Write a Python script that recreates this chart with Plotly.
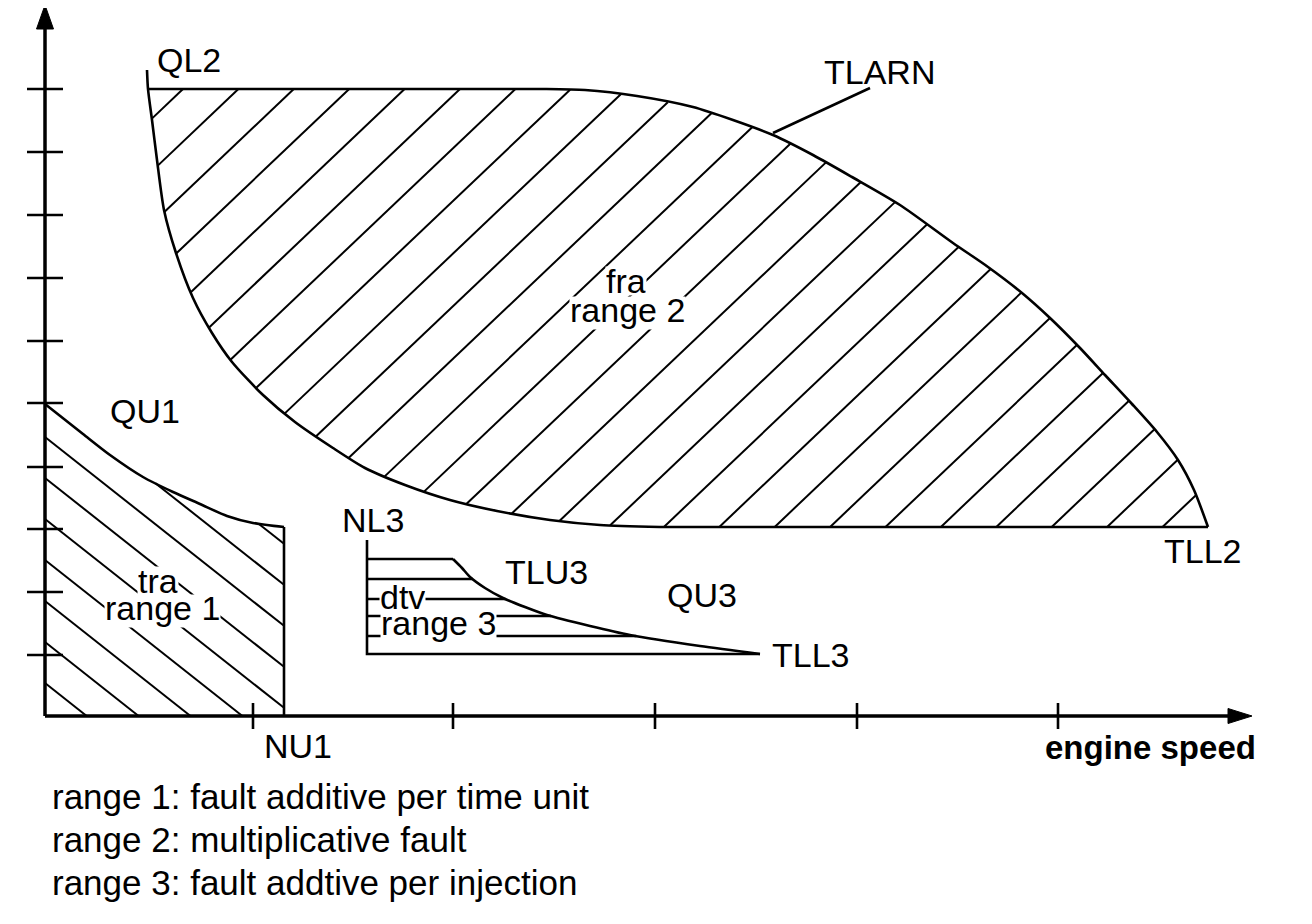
import numpy as np
import plotly.graph_objects as go

# ------------------------------------------------------------------
# Data (schematic units: x = engine speed, y = quantity, origin at axis corner)
# ------------------------------------------------------------------
X_TICKS = [208, 408, 610, 812, 1013]
Y_TICKS = [61, 124, 187, 249, 313, 375, 438, 501, 564, 627]

# range 1 (tra): upper limit curve QU1, right limit NU1
QU1_X = [0, 38, 65, 98, 128, 155, 182, 208, 239]
QU1_Y = [312, 282, 261, 239, 224, 212, 200, 193, 189]
NU1 = 239

# range 2 (fra): lower-left limit curve QL2, bottom limit TLL2, upper curve TLARN
QL2_X = [102, 103, 107, 112, 119, 131, 148, 167, 187, 218, 250, 288, 320, 360, 405, 452, 505, 555, 615]
QL2_Y = [646, 627, 596, 556, 506, 463, 418, 383, 354, 321, 294, 268, 248, 231, 216, 205, 196, 191, 189]
TLL2_X = [615, 1163]
TLL2_Y = [189, 189]
TLARN_X = [103, 495, 540, 592, 648, 688, 728, 768, 807, 855, 908, 943, 977, 1005, 1035, 1060, 1087, 1112, 1133, 1149, 1163]
TLARN_Y = [627, 627, 626, 620, 609, 596, 581, 561, 539, 511, 473, 449, 423, 398, 368, 341, 312, 284, 256, 226, 189]
TLARN_LEADER_X = [728, 825]
TLARN_LEADER_Y = [583, 628]

# range 3 (dtv): NL3 left limit, TLL3 bottom, TLU3 upper curve
NL3 = 322
NL3_TOP = 176
TLL3_Y = 62
TLU3_X = [408, 417, 425, 440, 458, 480, 502, 545, 585, 655, 715]
TLU3_Y = [157, 148, 139, 128, 118, 109, 101, 90, 81, 70, 62]
RANGE3_LEVELS = [137, 117, 100, 80]

# plain labels: text, x, y, anchor
LABELS = [
    ("QL2", 110, 656, "left"),
    ("TLARN", 777, 644, "left"),
    ("QU1", 63, 305, "left"),
    ("NU1", 253, -30, "center"),
    ("NL3", 295, 196, "left"),
    ("TLU3", 458, 144, "left"),
    ("QU3", 620, 121, "left"),
    ("TLL3", 725, 61, "left"),
    ("TLL2", 1117, 165, "left"),
]
# two-line range names drawn over hatching: (lower text, x, y), (upper text, x, y)
RANGE_NAMES = [
    (("range 1", 117, 105), ("tra", 113, 135)),
    (("range 2", 582, 403), ("fra", 581, 435)),
    (("range 3", 393, 90), ("dtv", 357, 119)),
]
AXIS_LABEL = ("engine speed", 998, -31)
LEGEND_LINES = [
    "range 1: fault additive per time unit",
    "range 2: multiplicative fault",
    "range 3: fault addtive per injection",
]
LEGEND_Y = [-80, -123, -166]

# ------------------------------------------------------------------
# Styling / layout constants
# ------------------------------------------------------------------
PAGE_OFF = 8                      # default body margin of the html page
W, H = 1312 - 2 * PAGE_OFF, 924 - 2 * PAGE_OFF
X0_PX, Y0_PX = 45 - PAGE_OFF, 716 - PAGE_OFF
FONT = "Liberation Sans, Arial, Helvetica, sans-serif"
FS = 34
FS_LEG = 35
FS_AXIS = 33
BLACK = "#000000"
AXIS_W = 3.5
EDGE_W = 2.6
HATCH_W = 2.0

Y_AXIS_TOP = 711
X_AXIS_END = 1207
ARROW_LEN = 24
ARROW_HALF = 8.5
Y_TICK_HALF = 18
X_TICK_HALF = 13

R1_SLOPE, R1_INTERCEPTS = -0.79, [361, 320, 279, 238, 197, 156, 115, 74, 33]
R2_SLOPE, R2_START, R2_STEP, R2_COUNT = 0.95, -323, 55.4, 28


def hatch(slope, intercepts, x_lo, x_hi, lower_fn, upper_fn, step=0.1):
    xs = np.arange(x_lo, x_hi + step / 2, step)
    lo, hi = lower_fn(xs), upper_fn(xs)
    hx, hy = [], []
    for b in intercepts:
        ys = b + slope * xs
        idx = np.flatnonzero((ys >= lo) & (ys <= hi))
        if idx.size == 0:
            continue
        br = np.flatnonzero(np.diff(idx) > 1)
        starts = np.r_[idx[0], idx[br + 1]]
        ends = np.r_[idx[br], idx[-1]]
        for s, e in zip(starts, ends):
            if xs[e] - xs[s] < 3:
                continue
            hx += [float(xs[s]), float(xs[e]), None]
            hy += [float(ys[s]), float(ys[e]), None]
    return hx, hy


def line(fig, x, y, width, shape="linear"):
    fig.add_trace(go.Scatter(x=x, y=y, mode="lines",
                             line=dict(color=BLACK, width=width, shape=shape, smoothing=0.7),
                             hoverinfo="skip", showlegend=False))


fig = go.Figure()

# ---- hatching range 1 ----
qx, qy = np.array(QU1_X, float), np.array(QU1_Y, float)
h1x, h1y = hatch(R1_SLOPE, R1_INTERCEPTS, 0, NU1,
                 lambda x: np.zeros_like(x), lambda x: np.interp(x, qx, qy))
line(fig, h1x, h1y, HATCH_W)

# ---- hatching range 2 ----
low_x = np.array(QL2_X[1:] + TLL2_X[1:], float)
low_y = np.array(QL2_Y[1:] + TLL2_Y[1:], float)
up_x, up_y = np.array(TLARN_X, float), np.array(TLARN_Y, float)
r2_int = [TLL2_Y[0] - R2_SLOPE * (R2_START + k * R2_STEP) for k in range(-1, R2_COUNT)]
h2x, h2y = hatch(R2_SLOPE, r2_int, low_x[0], low_x[-1],
                 lambda x: np.interp(x, low_x, low_y), lambda x: np.interp(x, up_x, up_y))
line(fig, h2x, h2y, HATCH_W)

# ---- range 3 level lines ----
cx_rev, cy_rev = np.array(TLU3_X[::-1], float), np.array(TLU3_Y[::-1], float)
lx, ly = [], []
for lev in RANGE3_LEVELS:
    lx += [NL3, float(np.interp(lev, cy_rev, cx_rev)), None]
    ly += [lev, lev, None]
line(fig, lx, ly, EDGE_W)

# ---- outlines ----
line(fig, QU1_X, QU1_Y, EDGE_W, "spline")
line(fig, [NU1, NU1], [QU1_Y[-1], 0], EDGE_W)
line(fig, QL2_X, QL2_Y, EDGE_W, "spline")
line(fig, TLL2_X, TLL2_Y, EDGE_W)
line(fig, TLARN_X, TLARN_Y, EDGE_W, "spline")
line(fig, TLARN_LEADER_X, TLARN_LEADER_Y, EDGE_W)
line(fig, [TLU3_X[0], NL3, None, NL3, NL3, TLU3_X[-1]],
     [TLU3_Y[0], TLU3_Y[0], None, NL3_TOP, TLL3_Y, TLL3_Y], EDGE_W)
line(fig, TLU3_X, TLU3_Y, EDGE_W, "spline")

# ---- axes ----
line(fig, [0, 0, None, 0, X_AXIS_END - ARROW_LEN + 2], [Y_AXIS_TOP - ARROW_LEN + 2, 0, None, 0, 0], AXIS_W)
tx, ty = [], []
for t in Y_TICKS:
    tx += [-Y_TICK_HALF, Y_TICK_HALF, None]
    ty += [t, t, None]
for t in X_TICKS:
    tx += [t, t, None]
    ty += [-X_TICK_HALF, X_TICK_HALF, None]
line(fig, tx, ty, 2.6)
fig.add_trace(go.Scatter(
    x=[0, -ARROW_HALF, ARROW_HALF, 0, None, X_AXIS_END, X_AXIS_END - ARROW_LEN, X_AXIS_END - ARROW_LEN, X_AXIS_END],
    y=[Y_AXIS_TOP, Y_AXIS_TOP - ARROW_LEN, Y_AXIS_TOP - ARROW_LEN, Y_AXIS_TOP, None, 0, ARROW_HALF - 1, -ARROW_HALF + 1, 0],
    mode="lines", fill="toself", fillcolor=BLACK, line=dict(color=BLACK, width=1),
    hoverinfo="skip", showlegend=False))

# ---- text ----
font = dict(family=FONT, size=FS, color=BLACK)
ann = []
for text, x, y, anchor in LABELS:
    ann.append(dict(x=x, y=y, text=text, showarrow=False, xanchor=anchor, yanchor="middle", font=font))
for (low_t, low_x_, low_y_), (up_t, up_x_, up_y_) in RANGE_NAMES:
    # white boxes hide the hatching behind the text, sized so they do not hide each other
    ann.append(dict(x=low_x_, y=low_y_, text=low_t, showarrow=False, xanchor="center", yanchor="middle",
                    bgcolor="white", borderpad=0, height=32, valign="bottom", font=font))
    ann.append(dict(x=up_x_, y=up_y_, text=up_t, showarrow=False, xanchor="center", yanchor="middle",
                    bgcolor="white", borderpad=0, height=28, valign="middle", font=font))
ann.append(dict(x=AXIS_LABEL[1], y=AXIS_LABEL[2], text="<b>%s</b>" % AXIS_LABEL[0], showarrow=False,
                xanchor="left", yanchor="middle", font=dict(family=FONT, size=FS_AXIS, color=BLACK)))
for txt, y in zip(LEGEND_LINES, LEGEND_Y):
    ann.append(dict(x=5, y=y, text=txt, showarrow=False, xanchor="left", yanchor="middle",
                    font=dict(family=FONT, size=FS_LEG, color=BLACK)))

fig.update_layout(
    width=W, height=H, margin=dict(l=0, r=0, t=0, b=0),
    paper_bgcolor="white", plot_bgcolor="white", showlegend=False,
    xaxis=dict(range=[-X0_PX, W - X0_PX], visible=False, fixedrange=True),
    yaxis=dict(range=[Y0_PX - H, Y0_PX], visible=False, fixedrange=True),
    annotations=ann,
)
fig.write_html("out.html", config={"displayModeBar": False})
